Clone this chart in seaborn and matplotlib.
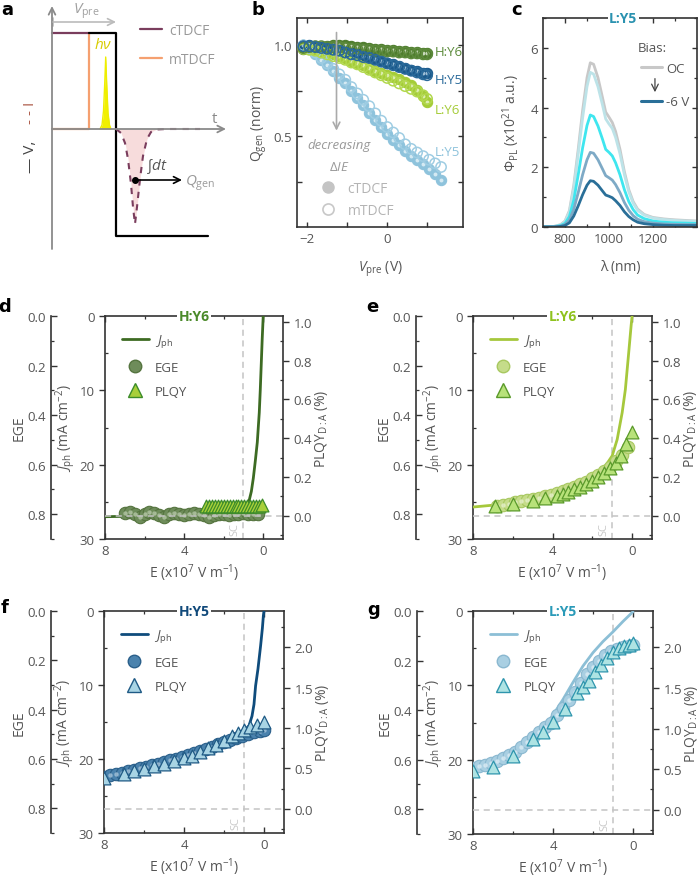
import numpy as np
import pandas as pd
import matplotlib
matplotlib.use("Agg")
import matplotlib.pyplot as plt
import seaborn as sns
from matplotlib.lines import Line2D
from matplotlib.ticker import MultipleLocator, FixedLocator, FixedFormatter, FormatStrFormatter

# ======================= DATA =======================
# ---- panel a: schematic of the TDCF experiment
a_step_t = [3.7, 6.4, 6.4, 15.6]
a_step_v = [9.6, 9.6, -10.7, -10.7]
a_pre_t = [0.0, 3.7]
a_pre_v = [9.6, 9.6]
a_m_t = [0.0, 3.7, 3.7]
a_m_v = [0.0, 0.0, 9.6]
a_hv_t = [4.8, 5.0, 5.15, 5.27, 5.37, 5.47, 5.6, 5.75, 5.9]
a_hv_v = [0.0, 0.4, 1.8, 4.5, 7.2, 4.5, 1.6, 0.4, 0.0]
a_I_t = [6.4, 6.9, 7.3, 7.6, 7.9, 8.1, 8.3, 8.5, 8.8, 9.1, 9.5, 9.9, 10.4, 11.5, 13.0, 14.8]
a_I_v = [0.0, -0.4, -1.4, -3.0, -5.5, -7.8, -9.5, -7.8, -5.0, -2.7, -1.0, -0.3, -0.05, 0.0, 0.0, 0.0]

# ---- panel b: Qgen (norm) vs Vpre
Vb = [-2.1, -1.95, -1.8, -1.65, -1.5, -1.35, -1.2, -1.05, -0.9, -0.75, -0.6,
      -0.45, -0.3, -0.15, 0.0, 0.15, 0.3, 0.45, 0.6, 0.75, 0.9, 1.0]
Vb_L5 = [-2.1, -1.95, -1.8, -1.65, -1.5, -1.35, -1.2, -1.05, -0.9, -0.75, -0.6,
         -0.45, -0.3, -0.15, 0.0, 0.15, 0.3, 0.45, 0.6, 0.75, 0.9, 1.05, 1.2, 1.35]
H6_c = [0.98, 0.985, 0.99, 0.99, 0.995, 1.0, 1.0, 1.0, 0.995, 0.99, 0.99, 0.985,
        0.98, 0.98, 0.975, 0.975, 0.97, 0.97, 0.965, 0.965, 0.96, 0.96]
H6_m = [0.985, 0.99, 0.995, 0.995, 0.99, 0.99, 0.99, 0.985, 0.98, 0.98, 0.975,
        0.975, 0.97, 0.97, 0.965, 0.965, 0.96, 0.96, 0.955, 0.955, 0.95, 0.95]
H5_c = [1.0, 1.0, 0.995, 0.99, 0.985, 0.98, 0.975, 0.965, 0.955, 0.95, 0.94, 0.935,
        0.925, 0.915, 0.905, 0.895, 0.885, 0.875, 0.865, 0.86, 0.85, 0.845]
H5_m = [0.995, 0.995, 0.99, 0.985, 0.98, 0.975, 0.97, 0.96, 0.95, 0.945, 0.935,
        0.93, 0.92, 0.91, 0.90, 0.89, 0.88, 0.87, 0.86, 0.85, 0.84, 0.835]
L6_c = [0.99, 0.985, 0.98, 0.97, 0.96, 0.95, 0.94, 0.93, 0.915, 0.905, 0.89, 0.875,
        0.86, 0.85, 0.835, 0.825, 0.815, 0.80, 0.78, 0.755, 0.72, 0.69]
L6_m = [0.98, 0.975, 0.97, 0.96, 0.95, 0.94, 0.93, 0.92, 0.905, 0.895, 0.88, 0.865,
        0.85, 0.835, 0.82, 0.805, 0.79, 0.775, 0.76, 0.745, 0.725, 0.705]
L5_c = [1.0, 0.98, 0.95, 0.92, 0.89, 0.86, 0.82, 0.79, 0.75, 0.71, 0.67, 0.63,
        0.59, 0.55, 0.51, 0.48, 0.45, 0.42, 0.39, 0.37, 0.345, 0.32, 0.29, 0.26]
L5_m = [1.0, 0.98, 0.96, 0.93, 0.90, 0.87, 0.84, 0.81, 0.77, 0.735, 0.70, 0.665,
        0.625, 0.585, 0.55, 0.52, 0.49, 0.455, 0.43, 0.41, 0.39, 0.37, 0.35, 0.33]

# ---- panel c: PL spectra of L:Y5 under bias
wl = [700, 750, 780, 800, 820, 840, 860, 880, 900, 915, 930, 950, 970, 985, 1000,
      1015, 1030, 1050, 1070, 1090, 1110, 1130, 1160, 1200, 1250, 1300, 1350, 1400]
pl_OC = [0.02, 0.02, 0.08, 0.2, 0.55, 1.4, 2.6, 3.9, 5.0, 5.5, 5.45, 5.0, 4.35, 3.85,
         3.68, 3.5, 3.2, 2.6, 1.85, 1.25, 0.85, 0.6, 0.42, 0.32, 0.27, 0.24, 0.22, 0.2]
pl_b1 = [0.02, 0.02, 0.07, 0.18, 0.5, 1.3, 2.45, 3.65, 4.7, 5.18, 5.12, 4.7, 4.1, 3.62,
         3.45, 3.3, 3.0, 2.45, 1.75, 1.18, 0.8, 0.56, 0.4, 0.3, 0.25, 0.22, 0.2, 0.19]
pl_b2 = [0.01, 0.01, 0.05, 0.12, 0.35, 0.9, 1.75, 2.65, 3.4, 3.75, 3.7, 3.38, 2.95, 2.6,
         2.5, 2.38, 2.15, 1.75, 1.25, 0.85, 0.58, 0.4, 0.28, 0.2, 0.16, 0.14, 0.13, 0.12]
pl_b3 = [0.01, 0.01, 0.03, 0.08, 0.23, 0.6, 1.15, 1.75, 2.25, 2.5, 2.47, 2.25, 1.95, 1.72,
         1.65, 1.57, 1.42, 1.15, 0.82, 0.56, 0.38, 0.26, 0.18, 0.13, 0.1, 0.09, 0.08, 0.08]
pl_6V = [0.0, 0.0, 0.02, 0.05, 0.14, 0.37, 0.71, 1.08, 1.4, 1.55, 1.53, 1.4, 1.21, 1.07,
         1.03, 0.98, 0.88, 0.72, 0.51, 0.35, 0.24, 0.16, 0.11, 0.08, 0.06, 0.05, 0.05, 0.05]

# ---- panel d: H:Y6
d_E_line = [8, 7, 6, 5, 4, 3, 2, 1.5, 1.0, 0.8, 0.7, 0.6, 0.5, 0.4, 0.3, 0.2, 0.15, 0.1, 0.05, 0]
d_J_line = [27.0, 26.95, 26.9, 26.85, 26.75, 26.6, 26.4, 26.2, 25.8, 25.3, 24.7, 23.6,
            21.8, 19.5, 17.0, 13.0, 10.0, 6.5, 3.0, 0.0]
d_E_ege = [7.0, 6.75, 6.5, 6.25, 6.0, 5.75, 5.5, 5.25, 5.0, 4.75, 4.5, 4.25, 4.0, 3.75,
           3.5, 3.25, 3.0, 2.75, 2.5, 2.25, 2.0, 1.75, 1.5, 1.25, 1.0, 0.75, 0.5, 0.25]
d_ege = [0.795, 0.79, 0.80, 0.81, 0.80, 0.79, 0.795, 0.805, 0.81, 0.80, 0.795, 0.80,
         0.805, 0.80, 0.795, 0.80, 0.805, 0.81, 0.805, 0.80, 0.80, 0.805, 0.80, 0.80,
         0.795, 0.80, 0.80, 0.80]
d_E_pl = [2.9, 2.75, 2.6, 2.45, 2.3, 2.15, 2.0, 1.85, 1.7, 1.55, 1.4, 1.25, 1.1, 0.95,
          0.8, 0.65, 0.5, 0.35, 0.2, 0.05]
d_pl = [0.05, 0.052, 0.05, 0.051, 0.05, 0.052, 0.05, 0.05, 0.051, 0.05, 0.05, 0.052,
        0.05, 0.05, 0.051, 0.05, 0.052, 0.05, 0.05, 0.055]

# ---- panel e: L:Y6
e_E_line = [8, 7, 6, 5, 4, 3, 2.4, 2.0, 1.6, 1.3, 1.0, 0.75, 0.5, 0.34, 0.17, 0.05, 0]
e_J_line = [25.7, 25.45, 25.1, 24.7, 24.2, 23.4, 22.3, 21.6, 20.8, 20.0, 18.8, 16.6,
            13.0, 9.9, 4.9, 1.3, 0.0]
e_E_ege = [6.8, 6.5, 6.2, 5.9, 5.6, 5.3, 5.0, 4.7, 4.4, 4.1, 3.8, 3.5, 3.2, 2.9, 2.6,
           2.3, 2.0, 1.7, 1.4, 1.1, 0.8, 0.5, 0.2]
e_ege = [0.767, 0.762, 0.758, 0.752, 0.748, 0.744, 0.74, 0.734, 0.728, 0.722, 0.715,
         0.708, 0.70, 0.69, 0.68, 0.668, 0.655, 0.64, 0.625, 0.608, 0.585, 0.56, 0.53]
e_E_pl = [6.9, 6.0, 5.0, 4.4, 3.8, 3.5, 3.2, 2.9, 2.6, 2.3, 2.0, 1.7, 1.4, 1.1, 0.8,
          0.55, 0.3, 0.0]
e_pl = [0.052, 0.06, 0.078, 0.09, 0.103, 0.112, 0.124, 0.138, 0.147, 0.164, 0.181,
        0.198, 0.221, 0.245, 0.272, 0.31, 0.371, 0.431]

# ---- panel f: H:Y5
f_E_line = [8, 7, 6, 5, 4, 3, 2, 1.5, 1.0, 0.75, 0.6, 0.5, 0.42, 0.3, 0.17, 0.08, 0.03, 0]
f_J_line = [22.5, 21.7, 20.9, 20.1, 19.3, 18.4, 17.3, 16.8, 16.2, 15.5, 14.2, 12.6,
            10.1, 7.8, 4.7, 2.3, 0.6, 0.0]
f_E_ege = [8.0, 7.7, 7.4, 7.1, 6.8, 6.5, 6.2, 5.9, 5.6, 5.3, 5.0, 4.7, 4.4, 4.1, 3.8,
           3.5, 3.2, 2.9, 2.6, 2.3, 2.0, 1.7, 1.4, 1.1, 0.8, 0.5, 0.2, 0.0]
f_ege = [0.671, 0.665, 0.66, 0.655, 0.648, 0.643, 0.637, 0.632, 0.626, 0.62, 0.613,
         0.606, 0.599, 0.592, 0.584, 0.576, 0.568, 0.559, 0.55, 0.541, 0.531, 0.522,
         0.513, 0.505, 0.497, 0.49, 0.485, 0.483]
f_E_pl = [8, 7, 6.5, 6, 5.5, 5, 4.5, 4, 3.6, 3.2, 2.8, 2.4, 2.0, 1.6, 1.3, 1.0, 0.7, 0.35, 0]
f_pl = [0.379, 0.433, 0.462, 0.495, 0.528, 0.557, 0.59, 0.627, 0.66, 0.709, 0.755,
        0.796, 0.845, 0.907, 0.94, 0.973, 1.01, 1.043, 1.072]

# ---- panel g: L:Y5
g_E_line = [8, 7, 6, 5, 4.5, 4, 3.5, 3, 2.5, 2, 1.5, 1, 0.5, 0]
g_J_line = [20.8, 19.9, 18.6, 16.9, 15.7, 14.0, 11.9, 9.6, 7.4, 5.6, 4.1, 2.8, 1.4, 0.1]
g_E_ege = [8.0, 7.7, 7.4, 7.1, 6.8, 6.5, 6.2, 5.9, 5.6, 5.3, 5.0, 4.7, 4.4, 4.1, 3.8,
           3.5, 3.2, 2.9, 2.6, 2.3, 2.0, 1.7, 1.4, 1.1, 0.8, 0.5, 0.2, 0.0]
g_ege = [0.632, 0.626, 0.62, 0.613, 0.604, 0.594, 0.583, 0.568, 0.55, 0.53, 0.51, 0.49,
         0.47, 0.45, 0.42, 0.39, 0.36, 0.325, 0.29, 0.255, 0.225, 0.2, 0.178, 0.16,
         0.152, 0.147, 0.142, 0.139]
g_E_pl = [8, 7, 6, 5, 4.5, 4, 3.4, 2.8, 2.5, 2.2, 1.9, 1.6, 1.3, 1.0, 0.7, 0.45, 0.2, 0]
g_pl = [0.48, 0.53, 0.667, 0.872, 0.963, 1.08, 1.24, 1.44, 1.51, 1.59, 1.70, 1.79,
        1.87, 1.95, 1.99, 2.02, 2.03, 2.05]

# ======================= STYLE =======================
sns.set_theme(style="ticks")
TXT = "#555555"
SP = "#333333"
plt.rcParams["font.family"] = ["Open Sans", "DejaVu Sans"]
plt.rcParams.update({
    "mathtext.fontset": "custom",
    "mathtext.rm": "Open Sans",
    "mathtext.it": "Open Sans:italic",
    "mathtext.bf": "Open Sans:bold",
    "text.color": TXT,
    "axes.labelcolor": TXT,
    "xtick.color": SP,
    "ytick.color": SP,
    "xtick.labelcolor": TXT,
    "ytick.labelcolor": TXT,
    "axes.edgecolor": SP,
    "axes.linewidth": 1.2,
    "xtick.labelsize": 9.5,
    "ytick.labelsize": 9.5,
    "axes.labelsize": 10,
    "xtick.major.width": 1.0,
    "ytick.major.width": 1.0,
    "xtick.minor.width": 0.9,
    "ytick.minor.width": 0.9,
})

W, H = 700, 879
fig = plt.figure(figsize=(7.0, 8.79), dpi=100)


def rect(l, t, r, b):
    return [l / W, 1 - b / H, (r - l) / W, (b - t) / H]


def plabel(x, y, s):
    fig.text(x / W, 1 - y / H, s, fontsize=13, fontweight="bold", color="black",
             ha="center", va="center", family="DejaVu Sans")


# ======================= PANEL a =======================
axa = fig.add_axes(rect(20, 5, 235, 250))
axa.set_xlim(-3.2, 18.3)
axa.set_ylim(-12, 12.5)
axa.axis("off")
GR = "#8a8a8a"
MAUVE = "#7a3d5d"
ORG = "#f5a070"
axa.annotate("", xy=(0, 12.3), xytext=(0, -12.0),
             arrowprops=dict(arrowstyle="->", color=GR, lw=1.3, shrinkA=0, shrinkB=0))
axa.annotate("", xy=(17.4, 0), xytext=(0, 0),
             arrowprops=dict(arrowstyle="->", color=GR, lw=1.3, shrinkA=0, shrinkB=0))
axa.fill_between(a_I_t, a_I_v, 0, color="#f7dcdc", lw=0)
axa.fill_between(a_hv_t, 0, a_hv_v, color="#f2f000", lw=0)
axa.plot(a_hv_t, a_hv_v, color="#eeee00", lw=1)
axa.plot(a_m_t, a_m_v, color=ORG, lw=1.6)
axa.plot(a_pre_t, a_pre_v, color=MAUVE, lw=1.6)
axa.plot(a_step_t, a_step_v, color="black", lw=1.6)
axa.plot(a_I_t, a_I_v, color=MAUVE, lw=1.5, ls=(0, (3, 3)))
axa.plot([8.3], [-5.1], "o", color="black", ms=4)
axa.annotate("", xy=(13.0, -5.1), xytext=(8.3, -5.1),
             arrowprops=dict(arrowstyle="->", color="black", lw=1.2, shrinkA=0, shrinkB=0))
axa.annotate("", xy=(6.4, 10.7), xytext=(0.1, 10.7),
             arrowprops=dict(arrowstyle="->", color="#bbbbbb", lw=1.2, shrinkA=0, shrinkB=0))
axa.plot([0.1, 0.1], [10.3, 11.1], color="#bbbbbb", lw=1.2)
axa.text(3.4, 11.9, r"$V_{\rm pre}$", color="#a0a0a0", fontsize=11, ha="center", va="center")
axa.text(5.1, 8.4, r"$h\nu$", color="#d8cc00", fontsize=11, ha="center", va="center")
axa.text(16.3, 1.0, "t", color=GR, fontsize=11, ha="center", va="center")
axa.text(9.4, -3.7, r"$\int dt$", color="#555555", fontsize=11, ha="left", va="center")
axa.text(13.3, -5.3, r"$Q_{\rm gen}$", color="#9a9a9a", fontsize=11, ha="left", va="center")
axa.text(-2.2, -2.7, "— V,", rotation=90, color="#444444", fontsize=11, ha="center", va="center")
axa.text(-2.2, 1.7, "- - I", rotation=90, color="#b0604e", fontsize=11, ha="center", va="center")
axa.legend([Line2D([], [], color=MAUVE, lw=1.6), Line2D([], [], color=ORG, lw=1.6)],
           ["cTDCF", "mTDCF"], loc="upper left", bbox_to_anchor=(0.5, 0.975),
           frameon=False, handlelength=1.6, handletextpad=0.5, labelspacing=1.0,
           fontsize=10, labelcolor="#999999")

# ======================= PANEL b =======================
axb = fig.add_axes(rect(297, 19, 463, 228))
b_series = [
    (Vb_L5, L5_c, L5_m, "#8ec3dc", "#9fcde3", "#d5eaf3"),
    (Vb, L6_c, L6_m, "#a5cc38", "#b2d84e", "#dcedb0"),
    (Vb, H6_c, H6_m, "#4f7d2e", "#5d8a3c", "#c9d9bd"),
    (Vb, H5_c, H5_m, "#1b5a8c", "#2a6a9a", "#9fbfd6"),
]
for V, qc, qm, cc, cm, hl in b_series:
    sns.scatterplot(x=V, y=qc, ax=axb, s=55, color=cc, edgecolor=cc, linewidth=0.8, zorder=2)
    sns.scatterplot(x=V, y=qc, ax=axb, s=8, color=hl, linewidth=0, zorder=2)
    sns.scatterplot(x=V, y=qm, ax=axb, s=55, facecolor="none", edgecolor=cm, linewidth=1.1, zorder=3)
axb.set_xlim(-2.26, 1.9)
axb.set_ylim(0, 1.15)
axb.xaxis.set_major_locator(FixedLocator([-2, -1, 0, 1]))
axb.xaxis.set_major_formatter(FixedFormatter(["\u22122", "", "0", ""]))
axb.yaxis.set_major_locator(FixedLocator([0.25, 0.5, 0.75, 1.0]))
axb.yaxis.set_major_formatter(FixedFormatter(["", "0.5", "", "1.0"]))
axb.tick_params(which="both", direction="in", top=True, right=True, length=3.5)
axb.set_xlabel(r"$V_{\rm pre}$ (V)", labelpad=10)
axb.set_ylabel(r"Q$_{\rm gen}$ (norm)", labelpad=3)
axb.annotate("", xy=(-1.27, 0.53), xytext=(-1.27, 1.07),
             arrowprops=dict(arrowstyle="->", color="#aaaaaa", lw=1.2, shrinkA=0, shrinkB=0))
axb.text(-1.2, 0.455, "decreasing", style="italic", color="#999999", fontsize=9.5, ha="center", va="center")
axb.text(-1.2, 0.335, r"$\Delta IE$", color="#999999", fontsize=9.5, ha="center", va="center")
axb.text(1.18, 0.967, "H:Y6", color="#5b8a3a", fontsize=9.5, ha="left", va="center")
axb.text(1.18, 0.813, "H:Y5", color="#2a6a9a", fontsize=9.5, ha="left", va="center")
axb.text(1.18, 0.648, "L:Y6", color="#a5cc38", fontsize=9.5, ha="left", va="center")
axb.text(1.18, 0.418, "L:Y5", color="#8ec3dc", fontsize=9.5, ha="left", va="center")
axb.legend([Line2D([], [], ls="", marker="o", ms=8, mfc="#c4c4c4", mec="#c4c4c4"),
            Line2D([], [], ls="", marker="o", ms=8, mfc="none", mec="#c8c8c8", mew=1.2)],
           ["cTDCF", "mTDCF"], loc="center left", bbox_to_anchor=(0.07, 0.13),
           frameon=False, handlelength=1.0, handletextpad=0.9, labelspacing=0.5,
           fontsize=10, labelcolor="#b4b4b4")

# ======================= PANEL c =======================
axc = fig.add_axes(rect(543, 19, 697, 228))
c_series = [(pl_OC, "#c8c8c8"), (pl_b1, "#bde3e8"), (pl_b2, "#3fe6ef"),
            (pl_b3, "#7eaac6"), (pl_6V, "#2a6f98")]
for yv, col in c_series:
    sns.lineplot(x=wl, y=yv, ax=axc, color=col, lw=2.0)
axc.set_xlim(700, 1400)
axc.set_ylim(0, 7)
axc.xaxis.set_major_locator(FixedLocator([800, 1000, 1200]))
axc.xaxis.set_minor_locator(FixedLocator([900, 1100, 1300]))
axc.yaxis.set_major_locator(MultipleLocator(2))
axc.yaxis.set_minor_locator(MultipleLocator(1))
axc.tick_params(which="both", direction="in", top=True, right=True)
axc.tick_params(which="major", length=3.5)
axc.tick_params(which="minor", length=2)
axc.set_xlabel("λ (nm)", labelpad=10)
axc.set_ylabel(r"$\Phi_{\rm PL}$ (x10$^{21}$ a.u.)", labelpad=6)
axc.text(0.52, 1.0, "L:Y5", transform=axc.transAxes, ha="center", va="center",
         fontsize=10, fontweight="bold", color="#2a92b0",
         bbox=dict(fc="white", ec="none", pad=1.0))
axc.text(0.615, 0.86, "Bias:", transform=axc.transAxes, ha="left", va="center",
         fontsize=9.5, color="#555555")
axc.legend([Line2D([], [], color="#c8c8c8", lw=2.2), Line2D([], [], color="#2a6f98", lw=2.2)],
           ["OC", "-6 V"], loc="upper left", bbox_to_anchor=(0.575, 0.835),
           frameon=False, handlelength=1.6, handletextpad=0.3, labelspacing=1.55,
           fontsize=9.5, labelcolor="#555555", borderpad=0.2)
axc.annotate("", xy=(0.727, 0.645), xytext=(0.727, 0.71), xycoords="axes fraction",
             arrowprops=dict(arrowstyle="->", color="#444444", lw=0.9, shrinkA=0, shrinkB=0))


# ======================= PANELS d-g =======================
def energy_panel(px, title, tcol, lcol, E_l, J_l, E_c, ege, cfc, cec, chl,
                 E_t, plq, tfc, tec, pl_lim, pl_step, ege_off):
    ax = fig.add_axes(rect(*px))
    sns.lineplot(x=E_l, y=J_l, ax=ax, color=lcol, lw=2.0, sort=False, zorder=3)
    ax.set_xlim(8, -1)
    ax.set_ylim(30, 0)
    ax.axvline(1.0, color="#c4c4c4", ls=(0, (4, 3)), lw=1.1, zorder=1)
    ax.text(1.15, 28.6, "SC", rotation=90, ha="right", va="center", color="#c8c8c8", fontsize=8)
    ax.xaxis.set_major_locator(MultipleLocator(4))
    ax.xaxis.set_minor_locator(MultipleLocator(2))
    ax.yaxis.set_major_locator(MultipleLocator(10))
    ax.yaxis.set_minor_locator(MultipleLocator(5))
    ax.spines["right"].set_visible(False)
    ax.tick_params(axis="x", which="both", direction="in", top=True, bottom=True)
    ax.tick_params(axis="x", which="major", length=4)
    ax.tick_params(axis="x", which="minor", length=2.5)
    ax.tick_params(axis="y", which="major", direction="out", length=4)
    ax.tick_params(axis="y", which="minor", direction="in", length=2.5)
    ax.set_xlabel(r"E (x10$^7$ V m$^{-1}$)", labelpad=3)
    ax.set_ylabel(r"$J_{\rm ph}$ (mA cm$^{-2}$)", labelpad=1)

    ax_e = ax.twinx()
    sns.scatterplot(x=E_c, y=ege, ax=ax_e, s=80, color=cfc, edgecolor=cec, linewidth=0.8, zorder=2)
    sns.scatterplot(x=E_c, y=ege, ax=ax_e, s=10, color=chl, linewidth=0, alpha=0.8, zorder=2)
    ax_e.set_ylim(0.9, 0)
    ax_e.yaxis.tick_left()
    ax_e.yaxis.set_label_position("left")
    ax_e.spines["left"].set_position(("axes", ege_off))
    ax_e.spines["left"].set_visible(True)
    for s in ["right", "top", "bottom"]:
        ax_e.spines[s].set_visible(False)
    ax_e.yaxis.set_major_locator(MultipleLocator(0.2))
    ax_e.yaxis.set_minor_locator(MultipleLocator(0.1))
    ax_e.yaxis.set_major_formatter(FormatStrFormatter("%.1f"))
    ax_e.tick_params(axis="y", which="both", direction="in", left=True, right=False,
                     labelleft=True, labelright=False)
    ax_e.tick_params(axis="y", which="major", length=4)
    ax_e.tick_params(axis="y", which="minor", length=2.5)
    ax_e.set_ylabel("EGE", labelpad=1)

    ax_p = ax.twinx()
    ax_p.axhline(0, color="#c4c4c4", ls=(0, (4, 3)), lw=1.1, zorder=0)
    sns.scatterplot(x=E_t, y=plq, ax=ax_p, s=85, marker="^", color=tfc, edgecolor=tec,
                    linewidth=0.9, zorder=3)
    ax_p.set_ylim(*pl_lim)
    for s in ["left", "top", "bottom"]:
        ax_p.spines[s].set_visible(False)
    ax_p.yaxis.set_major_locator(MultipleLocator(pl_step))
    ax_p.yaxis.set_minor_locator(MultipleLocator(pl_step / 2))
    ax_p.yaxis.set_major_formatter(FormatStrFormatter("%.1f"))
    ax_p.tick_params(axis="y", which="major", direction="out", length=4, right=True, left=False)
    ax_p.tick_params(axis="y", which="minor", direction="in", length=2.5, right=True, left=False)
    ax_p.set_ylabel(r"PLQY$_{\rm D:A}$ (%)", labelpad=1)
    ax_p.text(0.5, 1.0, title, transform=ax_p.transAxes, ha="center", va="center",
              fontsize=10, fontweight="bold", color=tcol,
              bbox=dict(fc="white", ec="none", pad=1.0))
    handles = [Line2D([], [], color=lcol, lw=2.0),
               Line2D([], [], ls="", marker="o", ms=9, mfc=cfc, mec=cec),
               Line2D([], [], ls="", marker="^", ms=10, mfc=tfc, mec=tec)]
    ax_p.legend(handles, [r"$J_{\rm ph}$", "EGE", "PLQY"], loc="upper left",
                bbox_to_anchor=(0.03, 0.98), frameon=False, handlelength=2.0,
                handletextpad=0.5, labelspacing=0.85, fontsize=9.5, labelcolor=TXT)
    return ax


energy_panel((105, 317, 283, 540), "H:Y6", "#4b8a2a", "#3d6b23",
             d_E_line, d_J_line, d_E_ege, d_ege, "#6e8c5a", "#55743f", "#b6c8a8",
             d_E_pl, d_pl, "#a8cf3a", "#3c8c2a", (-0.12, 1.03), 0.2, -0.303)
energy_panel((473, 317, 652, 540), "L:Y6", "#8fc21e", "#a6c83c",
             e_E_line, e_J_line, e_E_ege, e_ege, "#c5dc8a", "#a8c860", "#e6f0cc",
             e_E_pl, e_pl, "#b8e27a", "#5a9a2a", (-0.12, 1.03), 0.2, -0.318)
energy_panel((104, 612, 284, 834), "H:Y5", "#10497a", "#0f4c7c",
             f_E_line, f_J_line, f_E_ege, f_ege, "#4a82ad", "#2a5f8a", "#a6c4da",
             f_E_pl, f_pl, "#a8d4e4", "#1f5a85", (-0.3, 2.45), 0.5, -0.294)
energy_panel((473, 612, 653, 835), "L:Y5", "#2a9ab8", "#8cbfd6",
             g_E_line, g_J_line, g_E_ege, g_ege, "#a9cfe2", "#8ab8d0", "#dcecf4",
             g_E_pl, g_pl, "#aee3e3", "#2e95ad", (-0.3, 2.45), 0.5, -0.311)

plabel(7, 10, "a")
plabel(258, 10, "b")
plabel(517, 10, "c")
plabel(5, 307, "d")
plabel(372, 307, "e")
plabel(5, 608, "f")
plabel(374, 610, "g")

fig.savefig("out.png", dpi=100)
